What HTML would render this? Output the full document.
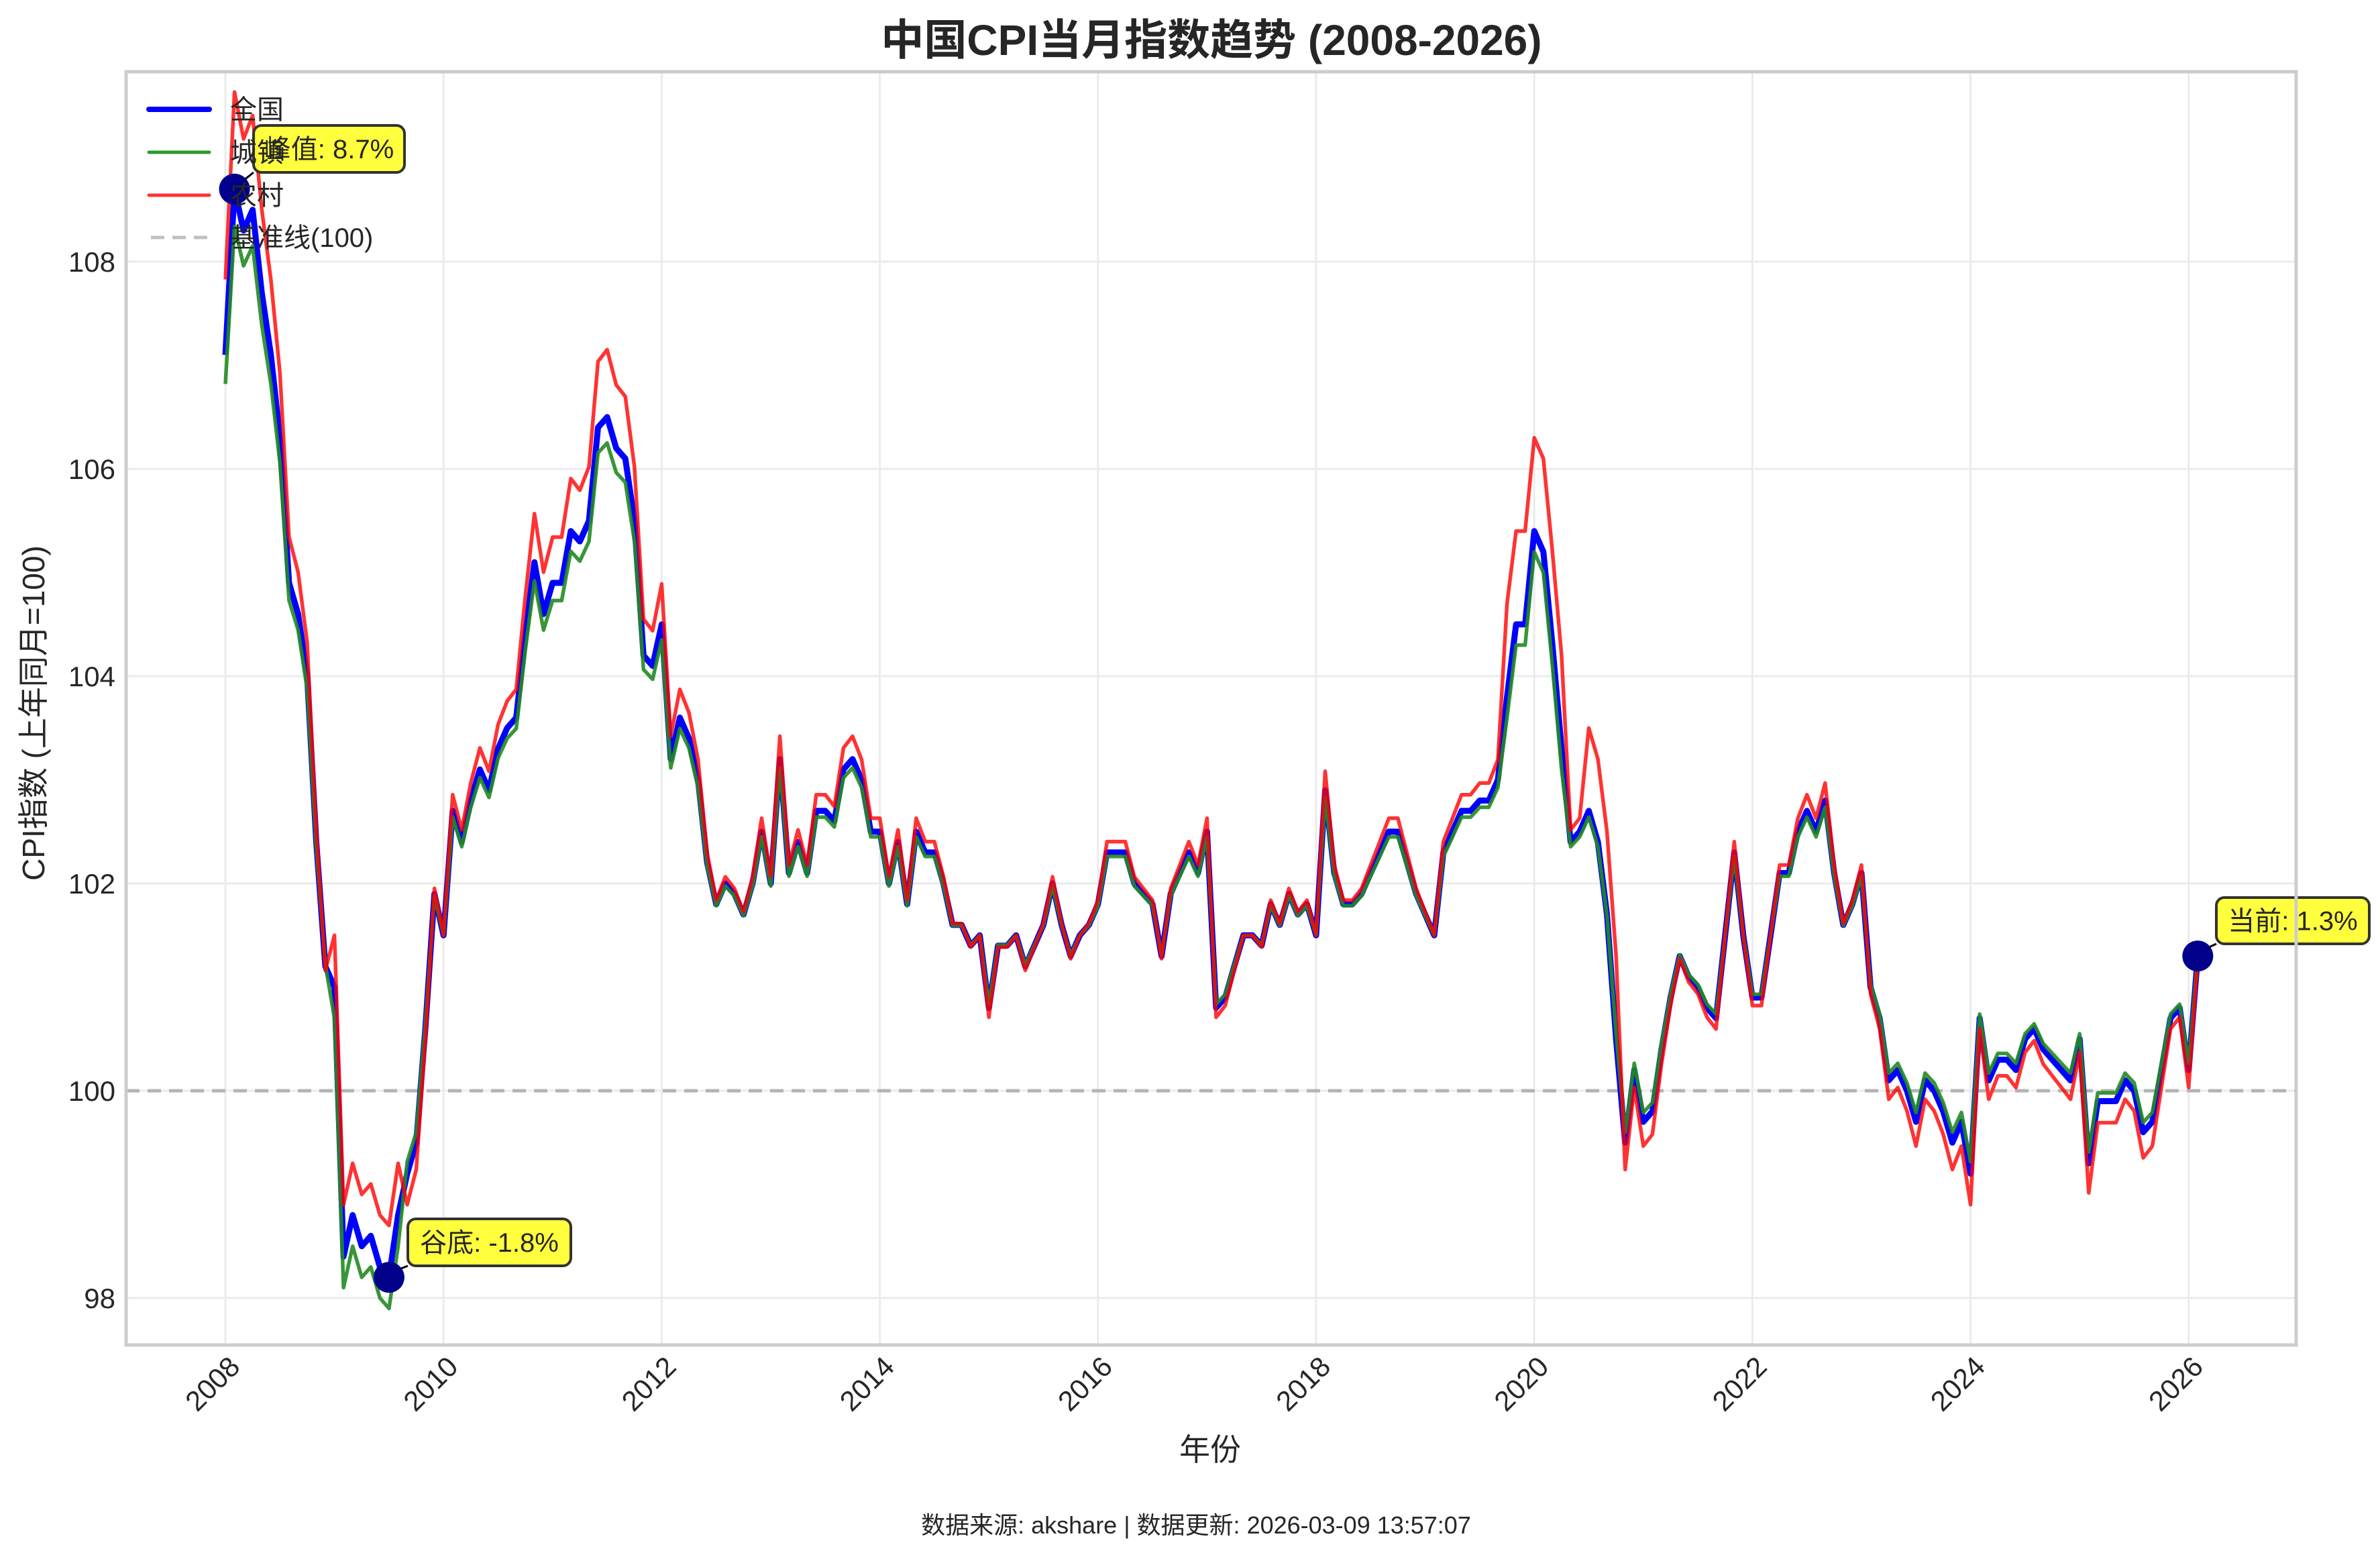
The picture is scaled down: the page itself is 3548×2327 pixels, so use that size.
<!DOCTYPE html>
<html><head><meta charset="utf-8"><style>
html,body{margin:0;padding:0;background:#fff}
svg{display:block}
text{font-family:"Liberation Sans","Noto Sans CJK SC",sans-serif;fill:#262626}
</style></head><body>
<svg id="s" width="3548" height="2327" viewBox="0 0 3548 2327" xmlns="http://www.w3.org/2000/svg">
<rect width="3548" height="2327" fill="#fff"/>
<g id="grid"></g>
<g id="series"></g>
<g id="ann"></g>
<rect x="188" y="107" width="3235" height="1898" fill="none" stroke="#cccccc" stroke-width="5"/>
<g id="ticks"></g>
<text x="1806" y="82" font-size="64" font-weight="bold" text-anchor="middle">中国CPI当月指数趋势 (2008-2026)</text>
<text x="1804" y="2177" font-size="46" text-anchor="middle">年份</text>
<text transform="translate(66,1063) rotate(-90)" font-size="46" text-anchor="middle">CPI指数 (上年同月=100)</text>
<text x="1783" y="2286" font-size="36" text-anchor="middle">数据来源: akshare | 数据更新: 2026-03-09 13:57:07</text>
<g id="legend">
<line x1="222" y1="163" x2="312" y2="163" stroke="#0000ff" stroke-width="8" stroke-linecap="round"/>
<text x="343" y="177" font-size="40">全国</text>
<line x1="222" y1="227" x2="312" y2="227" stroke="#2a9a2a" stroke-width="5" stroke-linecap="round"/>
<text x="343" y="241" font-size="40">城镇</text>
<line x1="222" y1="291" x2="312" y2="291" stroke="#ff3333" stroke-width="5" stroke-linecap="round"/>
<text x="343" y="305" font-size="40">农村</text>
<line x1="225" y1="354" x2="312" y2="354" stroke="#c0c0c0" stroke-width="5" stroke-dasharray="20,12"/>
<text x="343" y="368" font-size="40">基准线(100)</text>
</g>
</svg>
<script>
var nat=[7.1,8.7,8.3,8.5,7.7,7.1,6.3,4.9,4.6,4.0,2.4,1.2,
1.0,-1.6,-1.2,-1.5,-1.4,-1.7,-1.8,-1.2,-0.8,-0.5,0.6,1.9,
1.5,2.7,2.4,2.8,3.1,2.9,3.3,3.5,3.6,4.4,5.1,4.6,
4.9,4.9,5.4,5.3,5.5,6.4,6.5,6.2,6.1,5.5,4.2,4.1,
4.5,3.2,3.6,3.4,3.0,2.2,1.8,2.0,1.9,1.7,2.0,2.5,
2.0,3.2,2.1,2.4,2.1,2.7,2.7,2.6,3.1,3.2,3.0,2.5,
2.5,2.0,2.4,1.8,2.5,2.3,2.3,2.0,1.6,1.6,1.4,1.5,
0.8,1.4,1.4,1.5,1.2,1.4,1.6,2.0,1.6,1.3,1.5,1.6,
1.8,2.3,2.3,2.3,2.0,1.9,1.8,1.3,1.9,2.1,2.3,2.1,
2.5,0.8,0.9,1.2,1.5,1.5,1.4,1.8,1.6,1.9,1.7,1.8,
1.5,2.9,2.1,1.8,1.8,1.9,2.1,2.3,2.5,2.5,2.2,1.9,
1.7,1.5,2.3,2.5,2.7,2.7,2.8,2.8,3.0,3.8,4.5,4.5,
5.4,5.2,4.3,3.3,2.4,2.5,2.7,2.4,1.7,0.5,-0.5,0.2,
-0.3,-0.2,0.4,0.9,1.3,1.1,1.0,0.8,0.7,1.5,2.3,1.5,
0.9,0.9,1.5,2.1,2.1,2.5,2.7,2.5,2.8,2.1,1.6,1.8,
2.1,1.0,0.7,0.1,0.2,0.0,-0.3,0.1,0.0,-0.2,-0.5,-0.3,
-0.8,0.7,0.1,0.3,0.3,0.2,0.5,0.6,0.4,0.3,0.2,0.1,
0.5,-0.7,-0.1,-0.1,-0.1,0.1,0.0,-0.4,-0.3,0.2,0.7,0.8,
0.2,1.3];
function X(i){return 336+i*162.6/12}
function Y(v){return 1626-(v)*154.5}
var urb=[],rur=[];
for(var i=0;i<nat.length;i++){var n=nat[i];
 var u=n-0.05*(n-1.5), r=n+0.13*(n-1.5);
 if(i>=12&&i<20){u=n-0.3;r=n+0.5;}
 if(i>=141&&i<=147){r=n+0.9;u=n-0.2;}
 if(i>=150&&i<=153){r=n+0.8;}
 urb.push(u);rur.push(r);}
function path(a){var d="";for(var i=0;i<a.length;i++)d+=(i?"L":"M")+X(i).toFixed(1)+","+Y(a[i]).toFixed(1);return d}
var NS="http://www.w3.org/2000/svg";
function el(p,t,at,txt){var e=document.createElementNS(NS,t);for(var k in at)e.setAttribute(k,at[k]);if(txt)e.textContent=txt;document.getElementById(p).appendChild(e);return e}
for(var y=2008;y<=2026;y+=2){var x=336+(y-2008)*162.6;
 el("grid","line",{x1:x,y1:107,x2:x,y2:2005,stroke:"#ebebeb","stroke-width":3});
 el("ticks","text",{transform:"translate("+(x+24)+",2040) rotate(-45)","font-size":42,"text-anchor":"end"},""+y);}
for(var v=98;v<=108;v+=2){var yy=Y(v-100);
 el("grid","line",{x1:188,y1:yy,x2:3423,y2:yy,stroke:"#ebebeb","stroke-width":3});
 el("ticks","text",{x:172,y:yy+15,"font-size":42,"text-anchor":"end"},""+v);}
el("series","line",{x1:188,y1:1626,x2:3423,y2:1626,stroke:"#b4b4b4","stroke-width":5,"stroke-dasharray":"20,12"});
el("series","path",{d:path(nat),fill:"none",stroke:"#0000ff","stroke-width":9,"stroke-linejoin":"round"});
el("series","path",{d:path(urb),fill:"none",stroke:"#228b22","stroke-opacity":0.9,"stroke-width":5.5,"stroke-linejoin":"round"});
el("series","path",{d:path(rur),fill:"none",stroke:"#ff0000","stroke-opacity":0.8,"stroke-width":5.5,"stroke-linejoin":"round"});
function ann(i,bx,by,bw,bh,txt){var cx=X(i),cy=Y(nat[i]);
 el("ann","line",{x1:cx+10,y1:cy-10,x2:bx,y2:by+bh,stroke:"#000","stroke-width":3});
 el("ann","circle",{cx:cx,cy:cy,r:23,fill:"#00008b"});
 el("ann","rect",{x:bx,y:by,width:bw,height:bh,rx:12,fill:"#ffff33","fill-opacity":0.95,stroke:"#333","stroke-width":4});
 el("ann","text",{x:bx+bw/2,y:by+bh/2+14,"font-size":40,"text-anchor":"middle"},txt);}
ann(1,378,187,225,70,"峰值: 8.7%");
ann(18,608,1817,243,70,"谷底: -1.8%");
ann(nat.length-1,3304,1338,228,69,"当前: 1.3%");
</script>
</body></html>
